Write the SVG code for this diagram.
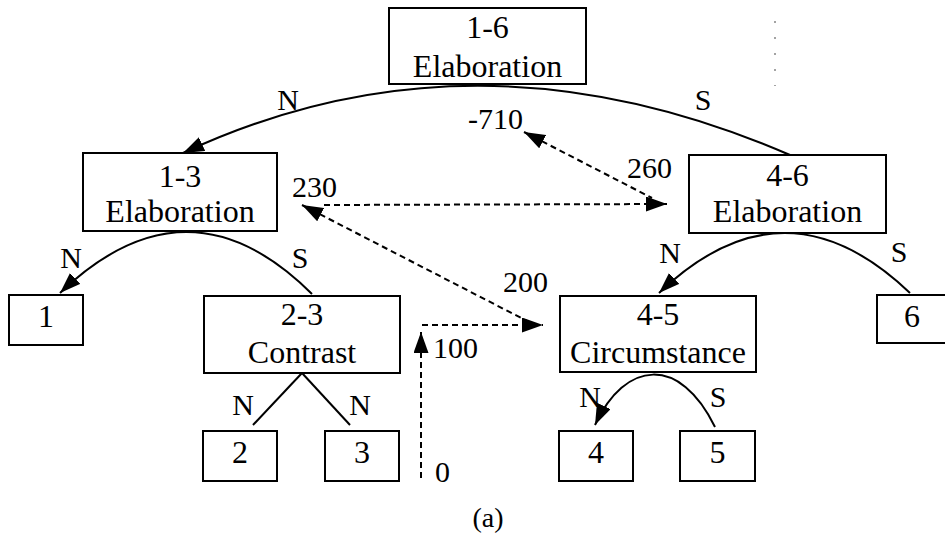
<svg xmlns="http://www.w3.org/2000/svg" width="945" height="533" viewBox="0 0 945 533">
  <style>
    text { font-family: 'Liberation Serif', Tinos, 'Nimbus Roman', FreeSerif, 'Noto Serif', 'DejaVu Serif', 'Times New Roman', Times, serif; fill: #000; }
    .box { fill: #fff; stroke: #000; stroke-width: 2; }
    .t { font-size: 32px; text-anchor: middle; }
    .lbl { font-size: 30px; text-anchor: middle; }
    .num { font-size: 30px; }
    .cap { font-size: 28px; text-anchor: middle; }
    .rel { fill: none; stroke: #000; stroke-width: 2; }
    .dash { fill: none; stroke: #000; stroke-width: 2; stroke-dasharray: 6 4; }
  </style>
  <defs>
    <!-- filled triangular arrowhead, 21 long x 15 wide -->
    <marker id="arr" markerUnits="userSpaceOnUse" markerWidth="22" markerHeight="16" refX="21" refY="7.5" orient="auto-start-reverse" viewBox="0 0 22 16">
      <path d="M0,0 L21,7.5 L0,15 z" fill="#000"/>
    </marker>
  </defs>
  <rect width="945" height="533" fill="#fff"/>

  <!-- connectors -->
  <g id="connectors">
    <path class="rel" d="M183,153 Q473.5,17.5 790,155" marker-start="url(#arr)"/>
    <path class="rel" d="M60,293 Q188,170.5 312,294" marker-start="url(#arr)"/>
    <path class="rel" d="M659,293 Q784.5,173 910,293" marker-start="url(#arr)"/>
    <path class="rel" d="M595,425 C625,360 680,355 715,427" marker-start="url(#arr)"/>
    <path class="rel" d="M302,373 L253,425"/>
    <path class="rel" d="M302,373 L350,425"/>

    <path class="dash" d="M524,132 L652,198" marker-start="url(#arr)"/>
    <path class="dash" d="M324,205 L667,204" marker-end="url(#arr)"/>
    <path class="dash" d="M302,205 L527,321" marker-start="url(#arr)"/>
    <path class="dash" d="M422,325 L543,325" marker-end="url(#arr)"/>
    <path class="dash" d="M421,478 L421,332" marker-end="url(#arr)"/>

    <!-- relation labels -->
    <text class="lbl" x="288" y="110">N</text>
    <text class="lbl" x="703" y="110">S</text>
    <text class="lbl" x="71" y="268">N</text>
    <text class="lbl" x="300" y="268">S</text>
    <text class="lbl" x="670" y="263">N</text>
    <text class="lbl" x="899" y="262">S</text>
    <text class="lbl" x="243" y="415">N</text>
    <text class="lbl" x="360" y="415">N</text>
    <text class="lbl" x="590" y="407">N</text>
    <text class="lbl" x="718" y="407">S</text>

    <!-- scores -->
    <text class="num" x="523" y="129" text-anchor="end">-710</text>
    <text class="num" x="627" y="178">260</text>
    <text class="num" x="292" y="197">230</text>
    <text class="num" x="503" y="292">200</text>
    <text class="num" x="433" y="358">100</text>
    <text class="num" x="435" y="482">0</text>
  </g>

  <!-- nodes -->
  <g id="n1-6">
    <rect class="box" x="389" y="8" width="197" height="76"/>
    <text class="t" x="487.5" y="38">1-6</text>
    <text class="t" x="487.5" y="77">Elaboration</text>
  </g>
  <g id="n1-3">
    <rect class="box" x="83" y="153" width="194" height="78"/>
    <text class="t" x="180" y="187">1-3</text>
    <text class="t" x="180" y="222">Elaboration</text>
  </g>
  <g id="n4-6">
    <rect class="box" x="689" y="155" width="197" height="78"/>
    <text class="t" x="787.5" y="186">4-6</text>
    <text class="t" x="787.5" y="222">Elaboration</text>
  </g>
  <g id="n1">
    <rect class="box" x="9" y="295" width="74" height="50"/>
    <text class="t" x="46" y="327">1</text>
  </g>
  <g id="n2-3">
    <rect class="box" x="204" y="296" width="196" height="77"/>
    <text class="t" x="302" y="325">2-3</text>
    <text class="t" x="302" y="363">Contrast</text>
  </g>
  <g id="n4-5">
    <rect class="box" x="560" y="296" width="196" height="76"/>
    <text class="t" x="658" y="325">4-5</text>
    <text class="t" x="658" y="363">Circumstance</text>
  </g>
  <g id="n6">
    <rect class="box" x="877" y="295" width="80" height="48"/>
    <text class="t" x="912" y="327">6</text>
  </g>
  <g id="n2">
    <rect class="box" x="203" y="431" width="74" height="50"/>
    <text class="t" x="240" y="463">2</text>
  </g>
  <g id="n3">
    <rect class="box" x="325" y="431" width="74" height="50"/>
    <text class="t" x="362" y="463">3</text>
  </g>
  <g id="n4">
    <rect class="box" x="559" y="431" width="74" height="50"/>
    <text class="t" x="596" y="463">4</text>
  </g>
  <g id="n5">
    <rect class="box" x="680" y="431" width="75" height="50"/>
    <text class="t" x="717.5" y="463">5</text>
  </g>

  <!-- caption -->
  <text class="cap" x="488" y="527">(a)</text>

  <!-- faint dotted mark at top right -->
  <path d="M775,21 L775,86" fill="none" stroke="#000" stroke-width="1.2" stroke-dasharray="2 14" opacity="0.6"/>
</svg>
